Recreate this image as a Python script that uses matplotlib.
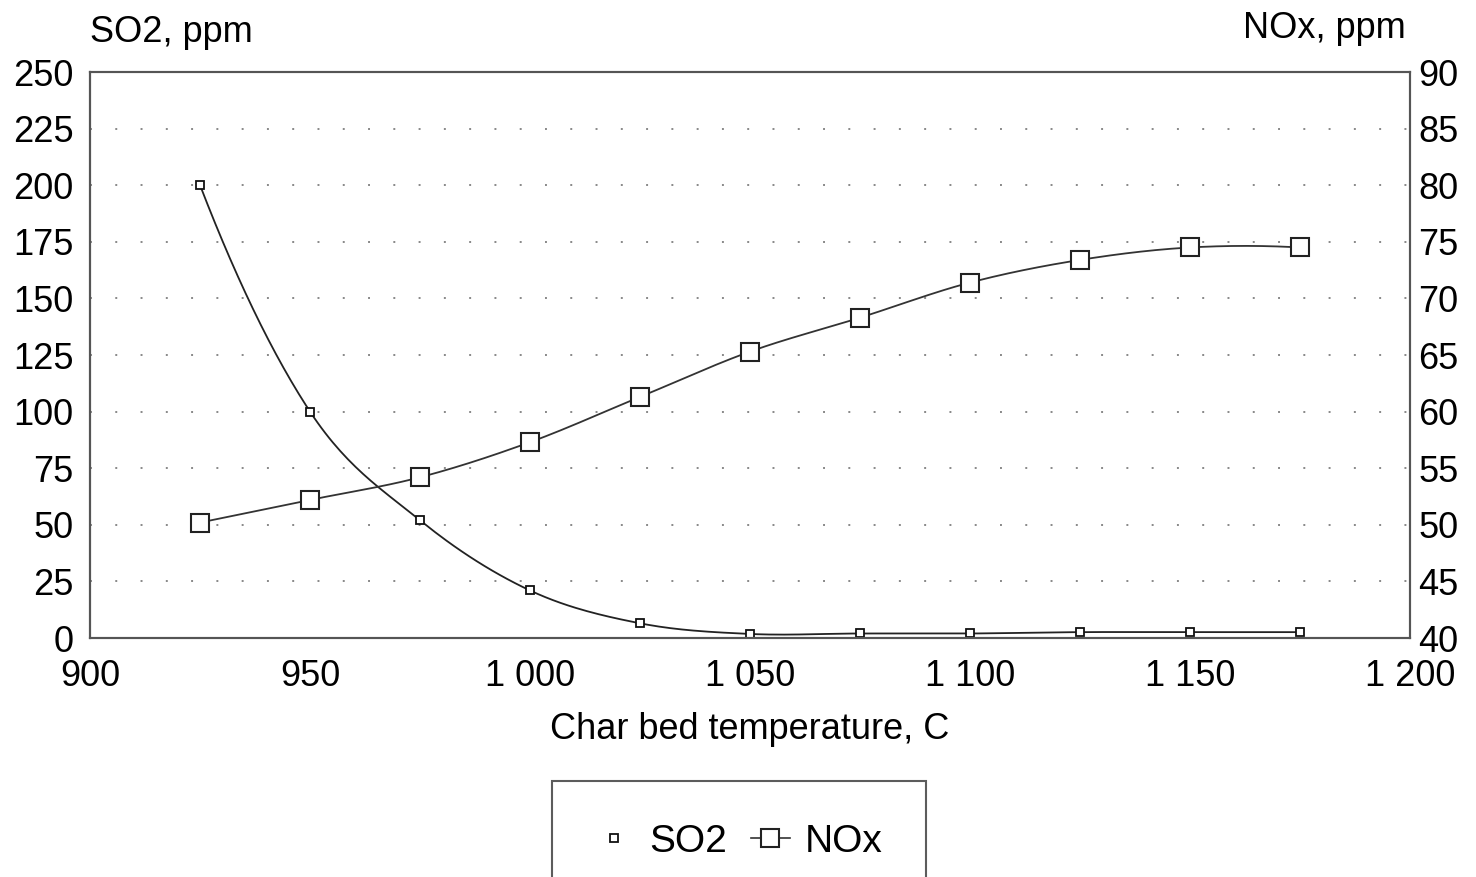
import numpy as np
import matplotlib
matplotlib.use('Agg')
import matplotlib.pyplot as plt
from matplotlib.ticker import FuncFormatter

plt.rcParams['font.family'] = ['Liberation Sans', 'DejaVu Sans']

temp = [925, 950, 975, 1000, 1025, 1050, 1075, 1100, 1125, 1150, 1175]
so2 = [200, 100, 52, 21, 6.5, 1.8, 2.0, 2.0, 2.6, 2.6, 2.6]
nox = [50.2, 52.2, 54.2, 57.3, 61.3, 65.3, 68.3, 71.4, 73.4, 74.5, 74.5]

x_ticks = [900, 950, 1000, 1050, 1100, 1150, 1200]
left_ticks = [0, 25, 50, 75, 100, 125, 150, 175, 200, 225, 250]
right_ticks = [40, 45, 50, 55, 60, 65, 70, 75, 80, 85, 90]


def smooth(x, y, n=30):
    # hermite spline through the points (smoothed line like the original)
    x = np.asarray(x, float)
    y = np.asarray(y, float)
    t = np.linspace(0, 1, n)
    h00 = 2 * t**3 - 3 * t**2 + 1
    h10 = t**3 - 2 * t**2 + t
    h01 = -2 * t**3 + 3 * t**2
    h11 = t**3 - t**2
    out = []
    for p in (x, y):
        m = np.empty_like(p)
        m[1:-1] = (p[2:] - p[:-2]) / 2
        m[0] = 2 * (p[1] - p[0]) - m[1]
        m[-1] = 2 * (p[-1] - p[-2]) - m[-2]
        seg = [h00 * p[i] + h10 * m[i] + h01 * p[i + 1] + h11 * m[i + 1]
               for i in range(len(p) - 1)]
        out.append(np.concatenate(seg))
    return out[0], out[1]


fig = plt.figure(figsize=(14.76, 8.77), dpi=100)
ax = fig.add_axes([0.061, 0.2725, 0.8943, 0.6454])
ax2 = ax.twinx()

ax.set_xlim(900, 1200)
ax.set_ylim(0, 250)
ax2.set_ylim(40, 90)

for v in left_ticks[1:-1]:
    ax.axhline(v, color='#888888', lw=1.4, ls=(0, (1, 12)), zorder=0)

sx, sy = smooth(temp, so2)
ax.plot(sx, sy, color='#222222', lw=1.3)
ax.plot(temp, so2, ls='none', marker='s', ms=6, mfc='white', mec='#111111', mew=1.3)

nx, ny = smooth(temp, nox)
ax2.plot(nx, ny, color='#333333', lw=1.3)
ax2.plot(temp, nox, ls='none', marker='s', ms=13, mfc='white', mec='#222222', mew=1.5)

fmt = FuncFormatter(lambda v, p: f'{int(v):,}'.replace(',', ' '))
ax.set_xticks(x_ticks)
ax.xaxis.set_major_formatter(fmt)
ax.set_yticks(left_ticks)
ax2.set_yticks(right_ticks)
ax.tick_params(axis='x', length=0, labelsize=26, pad=15)
ax.tick_params(axis='y', length=0, labelsize=26, pad=12)
ax2.tick_params(axis='y', length=0, labelsize=26, pad=6)

for a in (ax, ax2):
    for s in a.spines.values():
        s.set_color('#555555')
        s.set_linewidth(1.5)
ax.spines['left'].set_color('#111111')

ax.set_xlabel('Char bed temperature, C', fontsize=26, labelpad=13)
fig.text(90 / 1476, 1 - 32 / 877, 'SO2, ppm', fontsize=26, ha='left', va='center')
fig.text(1406 / 1476, 1 - 28 / 877, 'NOx, ppm', fontsize=26, ha='right', va='center')

h1 = plt.Line2D([], [], ls='none', marker='s', ms=6, mfc='white', mec='#111111', mew=1.3)
h2 = plt.Line2D([], [], color='#333333', lw=1.2, marker='s', ms=13, mfc='white', mec='#222222', mew=1.5)
leg = fig.legend([h1, h2], ['SO2', 'NOx'], loc='upper center', ncol=2,
                 bbox_to_anchor=(739 / 1476, 1 - 781 / 877), fontsize=28,
                 frameon=True, fancybox=False, edgecolor='#333333',
                 handlelength=1.0, columnspacing=0.6, handletextpad=0.4,
                 borderpad=1.1, borderaxespad=0)
leg.get_frame().set_linewidth(1.5)

fig.savefig('out.png', dpi=100)
